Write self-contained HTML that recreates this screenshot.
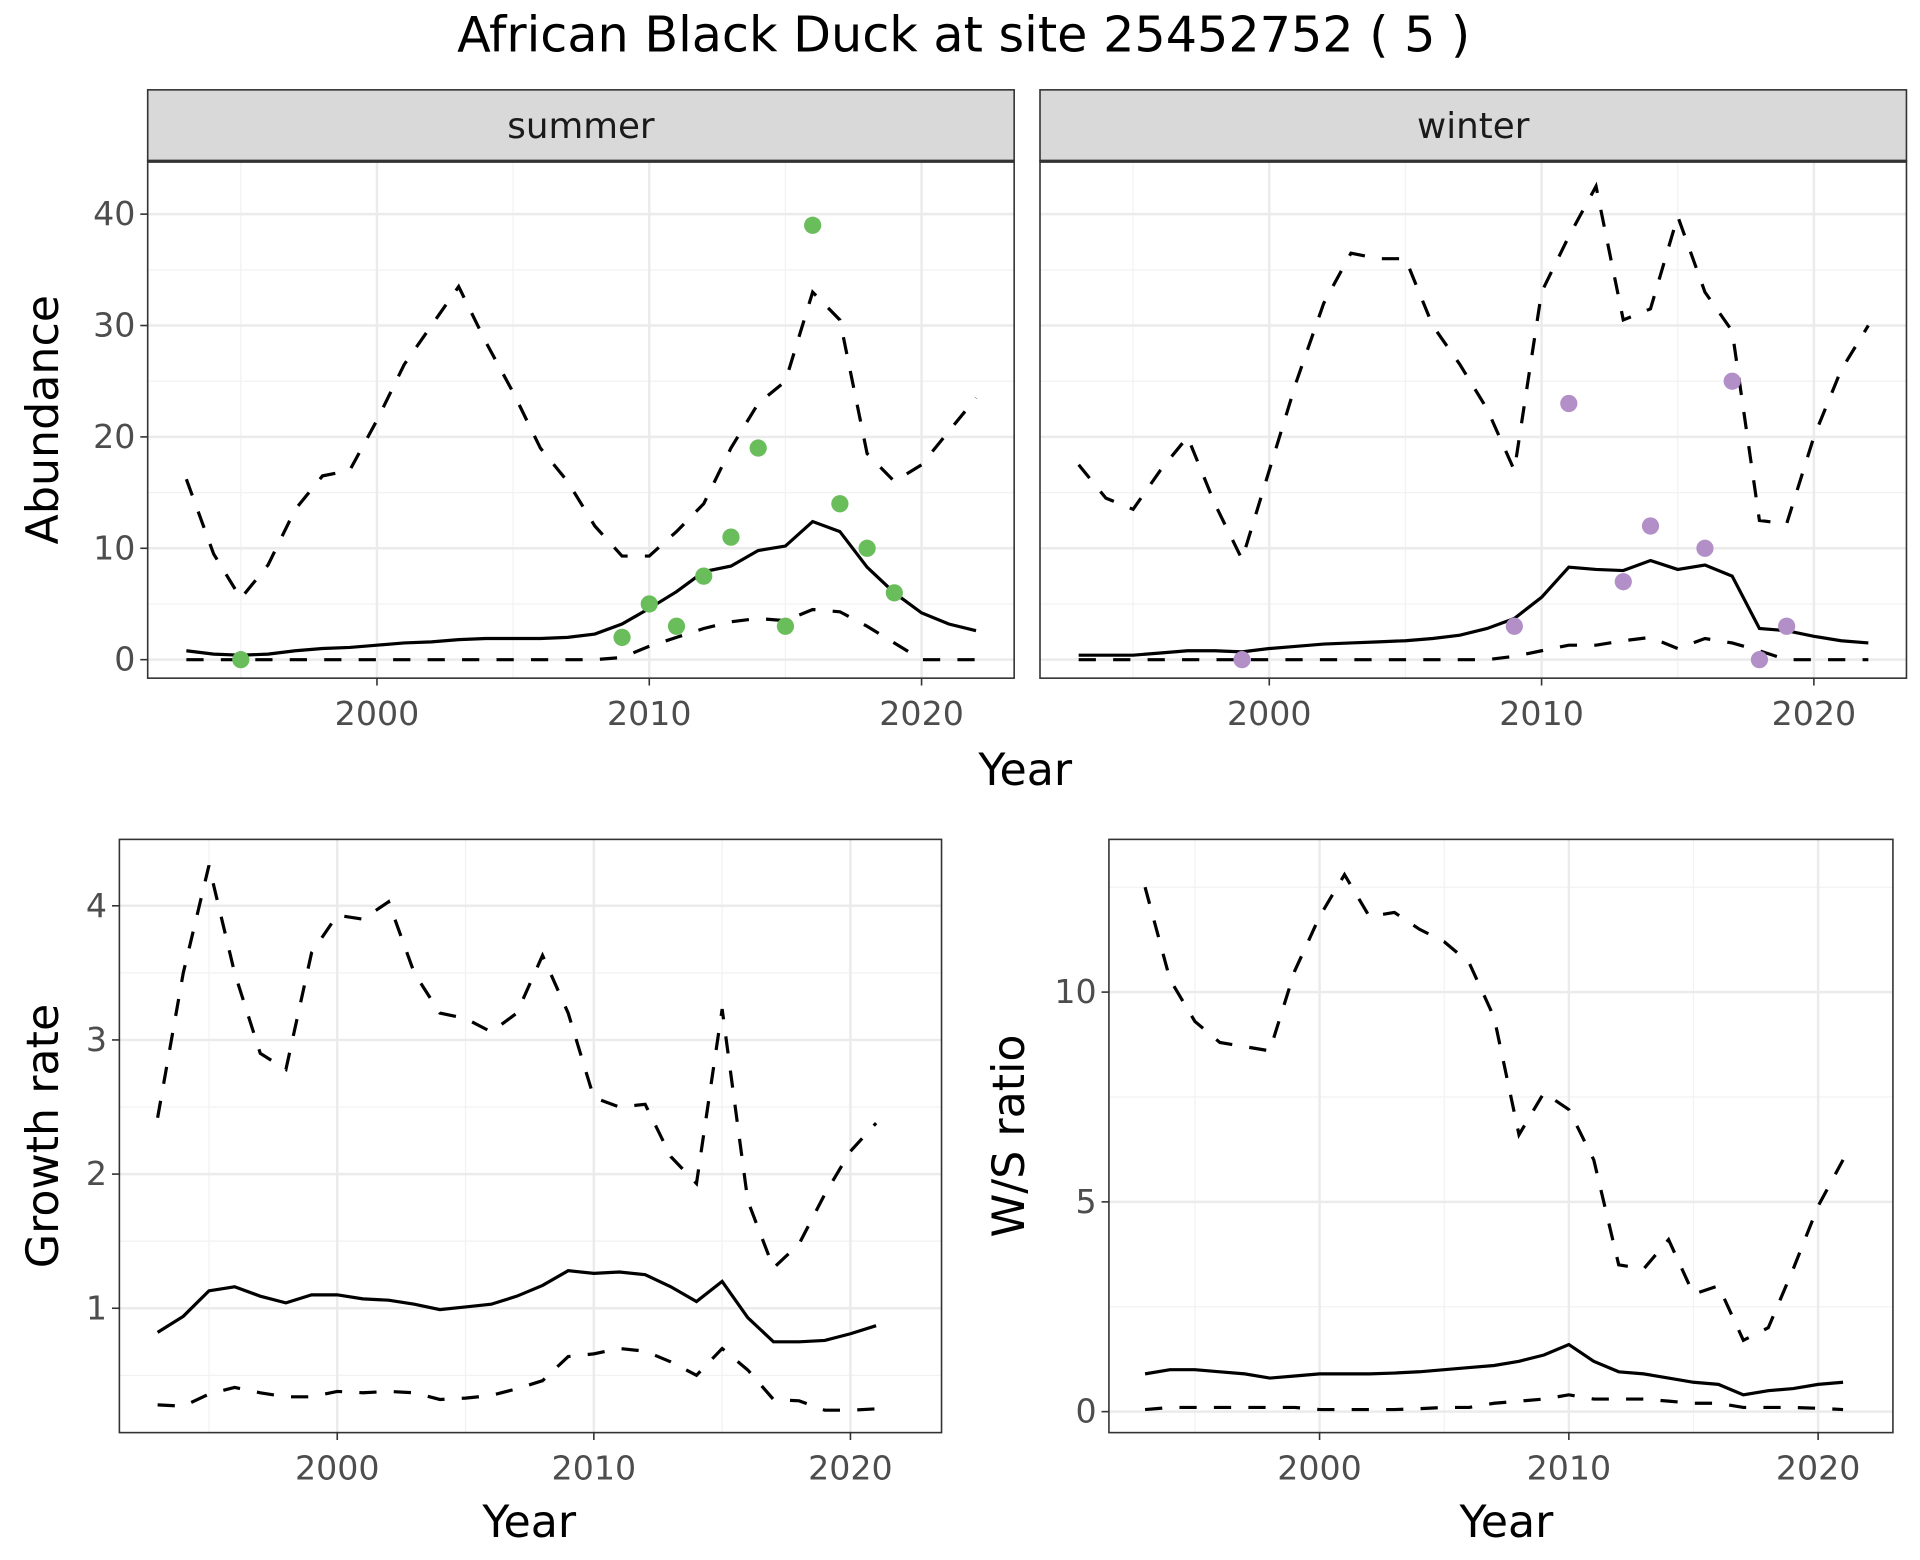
<!DOCTYPE html>
<html><head><meta charset="utf-8"><style>
body{margin:0;background:#fff}
svg{display:block;font-family:"DejaVu Sans","Liberation Sans",sans-serif}
</style></head><body>
<svg id="c" width="1920" height="1560" viewBox="0 0 1560 1267.5">
<rect width="1560" height="1267.5" fill="#fff"/>
<text x="783" y="42" font-size="40" text-anchor="middle" fill="#000">African Black Duck at site 25452752 ( 5 )</text>
</svg>
<script>
const years30 = [1993,1994,1995,1996,1997,1998,1999,2000,2001,2002,2003,2004,2005,2006,2007,2008,2009,2010,2011,2012,2013,2014,2015,2016,2017,2018,2019,2020,2021,2022];
const years29 = [1993,1994,1995,1996,1997,1998,1999,2000,2001,2002,2003,2004,2005,2006,2007,2008,2009,2010,2011,2012,2013,2014,2015,2016,2017,2018,2019,2020,2021];
const summerMean = [0.8,0.5,0.4,0.5,0.8,1.0,1.1,1.3,1.5,1.6,1.8,1.9,1.9,1.9,2.0,2.3,3.2,4.6,6.1,7.9,8.4,9.8,10.2,12.4,11.5,8.3,6.0,4.2,3.2,2.6];
const summerUpper = [16.2,9.5,5.5,8.5,13.5,16.5,17,21.5,26.5,30,33.5,28.5,24,19,16,12,9.3,9.3,11.5,14,19,23,25,33,30.5,18.5,16,17.5,20.5,23.5];
const summerLower = [0,0,0,0,0,0,0,0,0,0,0,0,0,0,0,0,0.2,1.2,2,2.8,3.4,3.7,3.5,4.5,4.3,3,1.5,0,0,0];
const summerPtYears = [1995,2009,2010,2011,2012,2013,2014,2015,2016,2017,2018,2019];
const summerPtVals = [0,2,5,3,7.5,11,19,3,39,14,10,6];
const winterMean = [0.4,0.4,0.4,0.6,0.8,0.8,0.7,1.0,1.2,1.4,1.5,1.6,1.7,1.9,2.2,2.8,3.7,5.6,8.3,8.1,8.0,8.9,8.1,8.5,7.5,2.8,2.6,2.1,1.7,1.5];
const winterUpper = [17.5,14.5,13.5,17,20,14,9,17,25,32,36.5,36,36,30,26.5,22.5,17,33,38,42.5,30.5,31.5,39.8,33,29.5,12.5,12.2,20,26,30];
const winterLower = [0,0,0,0,0,0,0,0,0,0,0,0,0,0,0,0,0.3,0.8,1.3,1.3,1.7,2.0,1.0,1.9,1.5,0.8,0,0,0,0];
const winterPtYears = [1999,2009,2011,2013,2014,2016,2017,2018,2019];
const winterPtVals = [0,3,23,7,12,10,25,0,3];
const growthMean = [0.82,0.94,1.13,1.16,1.09,1.04,1.10,1.10,1.07,1.06,1.03,0.99,1.01,1.03,1.09,1.17,1.28,1.26,1.27,1.25,1.16,1.05,1.20,0.93,0.75,0.75,0.76,0.81,0.87];
const growthUpper = [2.42,3.5,4.3,3.5,2.9,2.78,3.65,3.93,3.9,4.03,3.5,3.2,3.16,3.06,3.2,3.63,3.2,2.57,2.5,2.52,2.13,1.93,3.23,1.8,1.3,1.48,1.85,2.17,2.38];
const growthLower = [0.28,0.27,0.36,0.41,0.37,0.34,0.34,0.38,0.37,0.38,0.37,0.32,0.33,0.35,0.4,0.46,0.64,0.66,0.7,0.68,0.6,0.5,0.7,0.54,0.32,0.31,0.24,0.24,0.25];
const ratioMean = [0.9,1.0,1.0,0.95,0.9,0.8,0.85,0.9,0.9,0.9,0.92,0.95,1.0,1.05,1.1,1.2,1.35,1.6,1.2,0.95,0.9,0.8,0.7,0.65,0.4,0.5,0.55,0.65,0.7];
const ratioUpper = [12.5,10.3,9.3,8.8,8.7,8.6,10.5,11.8,12.8,11.8,11.9,11.5,11.2,10.7,9.4,6.6,7.6,7.2,6.0,3.5,3.4,4.1,2.8,3.0,1.7,2.0,3.4,4.9,6.0];
const ratioLower = [0.05,0.1,0.1,0.1,0.1,0.1,0.1,0.05,0.05,0.05,0.05,0.07,0.1,0.1,0.2,0.25,0.3,0.4,0.3,0.3,0.3,0.25,0.2,0.2,0.1,0.1,0.1,0.08,0.05];
const xTicks = [2000,2010,2020];
const xMinor = [1995,2005,2015];
const abTicks = [0,10,20,30,40];
const abMinor = [5,15,25,35];
const grTicks = [1,2,3,4];
const grMinor = [0.5,1.5,2.5,3.5];
const rtTicks = [0,5,10];
const rtMinor = [2.5,7.5,12.5];

const NS='http://www.w3.org/2000/svg';
const svg=document.getElementById('c');
function mk(tag,attrs,parent){const e=document.createElementNS(NS,tag);for(const k in attrs)e.setAttribute(k,attrs[k]);(parent||svg).appendChild(e);return e;}

function panel(o){
  const g=mk('g',{});
  
  
  const sx=v=>o.x0+(v-o.xmin)/(o.xmax-o.xmin)*(o.x1-o.x0);
  const sy=v=>o.y1-(v-o.ymin)/(o.ymax-o.ymin)*(o.y1-o.y0);
  mk('rect',{x:o.x0,y:o.y0,width:o.x1-o.x0,height:o.y1-o.y0,fill:'#fff'},g);
  o.xMinor.forEach(v=>mk('line',{x1:sx(v),x2:sx(v),y1:o.y0,y2:o.y1,stroke:'#f2f2f2','stroke-width':1},g));
  o.yMinor.forEach(v=>{if(v<o.ymax)mk('line',{x1:o.x0,x2:o.x1,y1:sy(v),y2:sy(v),stroke:'#f2f2f2','stroke-width':1},g);});
  o.xTicks.forEach(v=>mk('line',{x1:sx(v),x2:sx(v),y1:o.y0,y2:o.y1,stroke:'#ebebeb','stroke-width':2},g));
  o.yTicks.forEach(v=>mk('line',{x1:o.x0,x2:o.x1,y1:sy(v),y2:sy(v),stroke:'#ebebeb','stroke-width':2},g));
  const line=(ys,vals,dash,nm)=>{
    const p=mk('polyline',{points:ys.map((y,i)=>sx(y)+','+sy(vals[i])).join(' '),fill:'none',stroke:'#000','stroke-width':2.6,'stroke-dasharray':dash?'14,14':'none'},g);
    
    
  };
  line(o.years,o.upper,true,'upper-bound-line');
  line(o.years,o.lower,true,'lower-bound-line');
  line(o.years,o.mean,false,'mean-line');
  if(o.ptYears) o.ptYears.forEach((y,i)=>{
    const c=mk('circle',{cx:sx(y),cy:sy(o.ptVals[i]),r:7,fill:o.ptColor},g);
    
    
  });
  mk('rect',{x:o.x0,y:o.y0,width:o.x1-o.x0,height:o.y1-o.y0,fill:'none',stroke:'#333','stroke-width':1.3},g);
  if(o.strip){
    const s=mk('rect',{x:o.x0,y:o.y0-58,width:o.x1-o.x0,height:58,fill:'#d9d9d9',stroke:'#333','stroke-width':1.3},g);
    
    
    mk('line',{x1:o.x0,x2:o.x1,y1:o.y0,y2:o.y0,stroke:'#333','stroke-width':2.6},g);
    const t=mk('text',{x:(o.x0+o.x1)/2,y:o.y0-19,'font-size':29,'text-anchor':'middle',fill:'#1a1a1a'},g);
    t.textContent=o.strip;
    
    
  }
  o.xTicks.forEach(v=>{
    mk('line',{x1:sx(v),x2:sx(v),y1:o.y1,y2:o.y1+6,stroke:'#333','stroke-width':1.3},g);
    const t=mk('text',{x:sx(v),y:o.y1+38,'font-size':27,'text-anchor':'middle',fill:'#4d4d4d'},g);
    t.textContent=v;
    
    
  });
  if(o.showY) o.yTicks.forEach(v=>{
    mk('line',{x1:o.x0-6,x2:o.x0,y1:sy(v),y2:sy(v),stroke:'#333','stroke-width':1.3},g);
    const t=mk('text',{x:o.x0-10,y:sy(v)+9,'font-size':27,'text-anchor':'end',fill:'#4d4d4d'},g);
    t.textContent=v;
    
    
  });
  if(o.ylabel){
    const t=mk('text',{x:0,y:0,'font-size':36,'text-anchor':'middle',fill:'#000',transform:'translate('+o.ylx+','+((o.y0+o.y1)/2)+') rotate(-90)'},g);
    t.textContent=o.ylabel;
    
    
  }
  if(o.xlabel){
    const t=mk('text',{x:o.xlx,y:o.xly,'font-size':36,'text-anchor':'middle',fill:'#000'},g);
    t.textContent=o.xlabel;
    
    
  }
}
const abY={y0:131,y1:551,ymin:-1.66,ymax:44.75,yTicks:abTicks,yMinor:abMinor,xTicks:xTicks,xMinor:xMinor,xmin:1991.58,xmax:2023.4,years:years30};
panel(Object.assign({},abY,{name:'summer-panel',x0:120,x1:824,mean:summerMean,upper:summerUpper,lower:summerLower,ptYears:summerPtYears,ptVals:summerPtVals,ptColor:'#6abd5b',strip:'summer',showY:true,ylabel:'Abundance',ylx:47}));
panel(Object.assign({},abY,{name:'winter-panel',x0:845,x1:1549,mean:winterMean,upper:winterUpper,lower:winterLower,ptYears:winterPtYears,ptVals:winterPtVals,ptColor:'#b28fc7',strip:'winter',showY:false}));
const yt=mk('text',{x:833,y:638,'font-size':36,'text-anchor':'middle',fill:'#000'});
yt.textContent='Year';


panel({name:'growth-rate-panel',x0:97,x1:765,y0:682,y1:1164,xmin:1991.51,xmax:2023.55,ymin:0.073,ymax:4.495,years:years29,mean:growthMean,upper:growthUpper,lower:growthLower,xTicks:xTicks,xMinor:xMinor,yTicks:grTicks,yMinor:grMinor,showY:true,ylabel:'Growth rate',ylx:47,xlabel:'Year',xlx:430,xly:1249});
panel({name:'ws-ratio-panel',x0:901,x1:1538,y0:682,y1:1164,xmin:1991.55,xmax:2023.0,ymin:-0.5,ymax:13.64,years:years29,mean:ratioMean,upper:ratioUpper,lower:ratioLower,xTicks:xTicks,xMinor:xMinor,yTicks:rtTicks,yMinor:rtMinor,showY:true,ylabel:'W/S ratio',ylx:832,xlabel:'Year',xlx:1224,xly:1249});
</script>
</body></html>
